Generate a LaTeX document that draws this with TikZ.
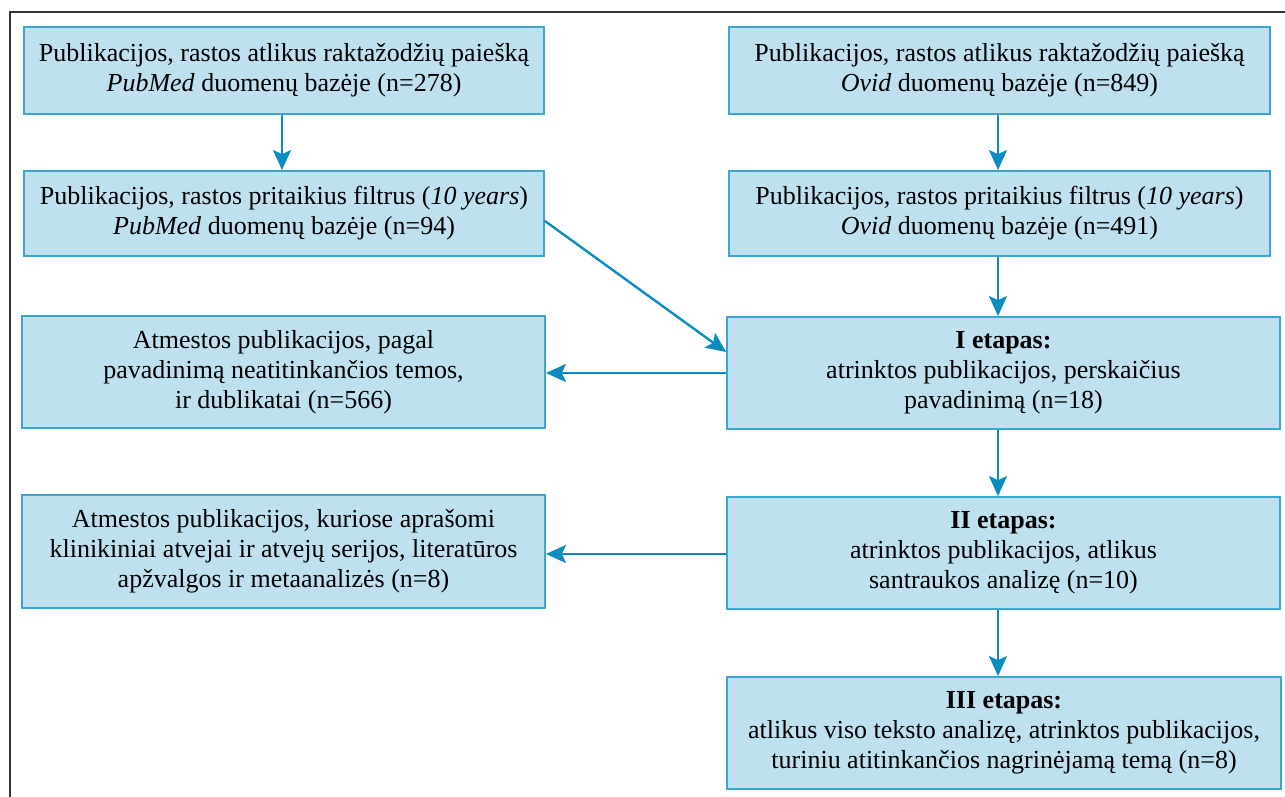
\documentclass[tikz,border=0pt]{standalone}
\usepackage{fontspec}
\setmainfont{Liberation Serif}
\usetikzlibrary{arrows.meta}
\definecolor{boxfill}{HTML}{BEE0EF}
\definecolor{boxline}{HTML}{3BA6D2}
\definecolor{arrowc}{HTML}{0A8CC0}
\definecolor{framec}{HTML}{333333}
\tikzset{
  flowbox/.style={draw=boxline, fill=boxfill, line width=1.8pt, align=center,
    inner sep=0pt, font=\fontsize{26}{30}\selectfont},
  flowarrow/.style={draw=arrowc, line width=2.4pt, -{Stealth[length=20pt,width=18pt,inset=4pt]}}
}
\begin{document}
\begin{tikzpicture}[x=1pt,y=-1pt]
\useasboundingbox (0,0) rectangle (1285,796);
% frame
\draw[framec, line width=1.6pt] (10,800) -- (10,12) -- (1290,12);
% left column
\node[flowbox, minimum width=520pt, minimum height=87pt] (A) at (284,70.5)
  {Publikacijos, rastos atlikus raktažodžių paiešką\\ \textit{PubMed} duomenų bazėje (n=278)};
\node[flowbox, minimum width=520pt, minimum height=85pt] (B) at (284,213.5)
  {Publikacijos, rastos pritaikius filtrus (\textit{10 years})\\ \textit{PubMed} duomenų bazėje (n=94)};
\node[flowbox, minimum width=523pt, minimum height=112pt] (E) at (283.5,372)
  {Atmestos publikacijos, pagal\\ pavadinimą neatitinkančios temos,\\ ir dublikatai (n=566)};
\node[flowbox, minimum width=523pt, minimum height=113pt] (G) at (283.5,551.5)
  {Atmestos publikacijos, kuriose aprašomi\\ klinikiniai atvejai ir atvejų serijos, literatūros\\ apžvalgos ir metaanalizės (n=8)};
% right column
\node[flowbox, minimum width=541pt, minimum height=87pt] (C) at (999.5,70.5)
  {Publikacijos, rastos atlikus raktažodžių paiešką\\ \textit{Ovid} duomenų bazėje (n=849)};
\node[flowbox, minimum width=541pt, minimum height=85pt] (D) at (999.5,213.5)
  {Publikacijos, rastos pritaikius filtrus (\textit{10 years})\\ \textit{Ovid} duomenų bazėje (n=491)};
\node[flowbox, minimum width=553pt, minimum height=112pt] (F) at (1003.5,373)
  {\textbf{I etapas:}\\ atrinktos publikacijos, perskaičius\\ pavadinimą (n=18)};
\node[flowbox, minimum width=553pt, minimum height=112pt] (H) at (1003.5,553)
  {\textbf{II etapas:}\\ atrinktos publikacijos, atlikus\\ santraukos analizę (n=10)};
\node[flowbox, minimum width=554pt, minimum height=112pt] (I) at (1004,733)
  {\textbf{III etapas:}\\ atlikus viso teksto analizę, atrinktos publikacijos,\\ turiniu atitinkančios nagrinėjamą temą (n=8)};
% arrow guide coordinates
\coordinate (lx) at (282,0);
\coordinate (rx) at (998,0);
\coordinate (by) at (0,221);
\coordinate (fy) at (0,352);
\coordinate (ey) at (0,373);
\coordinate (gy) at (0,554);
% connectors
\draw[flowarrow] (A.south -| lx) -- (B.north -| lx);
\draw[flowarrow] (C.south -| rx) -- (D.north -| rx);
\draw[flowarrow] (D.south -| rx) -- (F.north -| rx);
\draw[flowarrow] (B.east |- by) -- (F.west |- fy);
\draw[flowarrow] (F.west |- ey) -- (E.east |- ey);
\draw[flowarrow] (F.south -| rx) -- (H.north -| rx);
\draw[flowarrow] (H.west |- gy) -- (G.east |- gy);
\draw[flowarrow] (H.south -| rx) -- (I.north -| rx);
\end{tikzpicture}
\end{document}
